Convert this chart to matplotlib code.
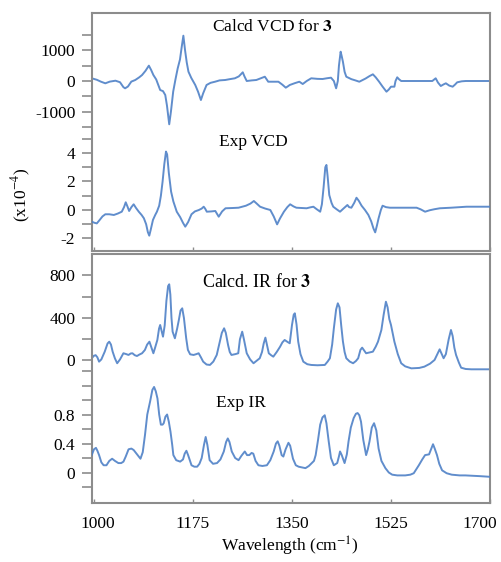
import numpy as np
import matplotlib
matplotlib.use("Agg")
import matplotlib.pyplot as plt
from matplotlib.transforms import ScaledTranslation

plt.rcParams["font.family"] = ["Liberation Serif", "DejaVu Serif"]
plt.rcParams["mathtext.fontset"] = "stix"

# Calcd VCD for 3
calc_vcd_x = [996, 1005, 1012, 1020, 1028, 1038, 1046, 1052, 1055, 1060, 1066, 1073,
              1080, 1085, 1091, 1097, 1101, 1105, 1110, 1117, 1122, 1126, 1129, 1133,
              1136, 1140, 1144, 1148, 1152, 1155, 1158, 1161, 1164, 1167, 1172, 1179,
              1184, 1189, 1193, 1199, 1206, 1214, 1222, 1232, 1240, 1249, 1256, 1263,
              1266, 1270, 1279, 1287, 1295, 1302, 1305, 1308, 1318, 1326, 1333, 1339,
              1343, 1346, 1355, 1363, 1369, 1376, 1384, 1395, 1404, 1412, 1419, 1424,
              1428, 1431, 1433, 1436, 1438, 1440, 1443, 1446, 1455, 1462, 1469, 1480,
              1487, 1493, 1498, 1504, 1510, 1517, 1521, 1525, 1531, 1533, 1536, 1539,
              1543, 1570, 1598, 1604, 1608, 1613, 1618, 1622, 1628, 1634, 1638, 1642,
              1650, 1657, 1700]
calc_vcd_y = [88, 40, -20, -75, -20, 10, -40, -200, -238, -180, -20, 33,
              120, 195, 330, 500, 360, 195, 50, -293, -330, -456, -800, -1411,
              -1000, -347, 50, 413, 700, 1100, 1477, 1000, 600, 303, 100, -130,
              -350, -619, -400, -130, -60, -23, 20, 33, 60, 88, 150, 283,
              150, 0, 20, 33, 90, 140, 60, -23, -23, -23, -120, -217,
              -170, -130, -70, -23, -98, 0, 88, 70, 65, 90, 108, 0,
              -238, 0, 500, 955, 800, 629, 300, 140, 60, 20, -23, 80,
              160, 218, 120, -23, -180, -348, -280, -185, -185, 0, 120, 60,
              0, 0, 0, 88, -50, -163, -110, -75, -150, -185, -120, -43,
              -10, 0, 0]

# Exp VCD (x10^-4)
exp_vcd_x = [996, 1001, 1005, 1010, 1015, 1020, 1027, 1035, 1042, 1049, 1053, 1056,
             1059, 1062, 1066, 1070, 1074, 1079, 1084, 1088, 1092, 1095, 1097.5, 1100,
             1104, 1108, 1111, 1115, 1118, 1121, 1124, 1127, 1129, 1132, 1136, 1140,
             1146, 1152, 1157, 1161, 1166, 1172, 1178, 1185, 1190, 1193.5, 1196, 1199,
             1207, 1214, 1220, 1226, 1232, 1245, 1255, 1268, 1276, 1282, 1287, 1293,
             1302, 1311, 1317, 1323, 1328, 1335, 1341, 1346, 1352, 1357, 1366, 1375,
             1381, 1387, 1393, 1399, 1402, 1405, 1408, 1410, 1412, 1415, 1419, 1422,
             1428, 1434, 1440, 1447, 1450, 1454, 1459, 1463, 1467, 1472, 1478, 1484,
             1489, 1493, 1496, 1499, 1502, 1506, 1509, 1515, 1522, 1545, 1569, 1576,
             1584, 1592, 1600, 1610, 1630, 1657, 1700]
exp_vcd_y = [-0.82, -0.90, -0.94, -0.70, -0.45, -0.30, -0.30, -0.35, -0.25, -0.12, 0.20, 0.54,
             0.25, -0.07, 0.20, 0.40, 0.15, -0.12, -0.35, -0.58, -1.00, -1.55, -1.80, -1.40,
             -0.70, -0.35, -0.12, 0.30, 1.00, 1.99, 3.20, 4.10, 3.90, 2.60, 1.29, 0.60,
             -0.12, -0.50, -0.90, -1.17, -0.85, -0.30, -0.10, 0.0, 0.10, 0.23, 0.10, -0.12,
             -0.10, -0.07, -0.47, -0.10, 0.12, 0.14, 0.16, 0.30, 0.45, 0.63, 0.45, 0.23,
             0.10, 0.0, -0.45, -1.01, -0.60, -0.12, 0.20, 0.40, 0.25, 0.16, 0.14, 0.12,
             0.18, 0.23, 0.05, -0.12, 0.40, 1.60, 3.00, 3.16, 2.40, 1.05, 0.50, 0.23,
             0.05, -0.12, 0.10, 0.35, 0.20, 0.16, 0.50, 0.86, 0.65, 0.30, 0.00, -0.35,
             -0.80, -1.30, -1.57, -1.10, -0.58, 0.00, 0.30, 0.20, 0.16, 0.16, 0.16, 0.05,
             -0.12, -0.02, 0.05, 0.12, 0.16, 0.23, 0.23]

# Calcd. IR for 3
calc_ir_x = [996, 1000, 1003, 1006, 1009, 1013, 1019, 1024, 1027, 1030, 1033, 1037,
             1041, 1046, 1052, 1057, 1061, 1065, 1068, 1072, 1076, 1080, 1085, 1090,
             1094, 1098, 1101, 1105, 1108, 1112, 1115, 1117, 1119, 1122, 1125, 1128,
             1131, 1133, 1135, 1137, 1139, 1143, 1147, 1150, 1153, 1156, 1159, 1163,
             1166, 1170, 1176, 1181, 1185, 1189, 1193, 1199, 1205, 1211, 1217, 1222,
             1226, 1230, 1233, 1237, 1240, 1243, 1250, 1255, 1258, 1262, 1265, 1270,
             1276, 1282, 1288, 1293, 1297, 1300, 1303, 1306, 1309, 1313, 1317, 1323,
             1329, 1333, 1337, 1342, 1346, 1350, 1353, 1355, 1358, 1361, 1365, 1370,
             1377, 1384, 1395, 1408, 1413, 1417, 1421, 1424, 1428, 1431, 1434, 1437,
             1440, 1443, 1446, 1452, 1458, 1463, 1467, 1471, 1474, 1478, 1481, 1487,
             1493, 1498, 1502, 1508, 1512, 1516, 1519, 1522, 1525, 1531, 1537, 1543,
             1550, 1561, 1575, 1584, 1594, 1602, 1607, 1611, 1614, 1618, 1622, 1627,
             1631, 1634, 1637, 1640, 1645, 1649, 1657, 1667, 1700]
calc_ir_y = [21, 45, 50, 30, -11, 10, 83, 160, 177, 150, 83, 20,
             -26, 10, 68, 60, 52, 66, 68, 50, 42, 55, 68, 99,
             150, 177, 130, 68, 120, 193, 300, 334, 290, 224, 330, 560,
             700, 717, 620, 400, 271, 209, 300, 381, 470, 491, 400, 209,
             100, 58, 52, 60, 68, 30, -11, -38, -42, -10, 52, 170,
             260, 303, 260, 146, 80, 52, 60, 68, 200, 271, 200, 68,
             10, -26, 0, 21, 80, 160, 215, 140, 68, 50, 36, 80,
             130, 170, 193, 175, 162, 334, 430, 444, 340, 177, 60, -11,
             -35, -42, -45, -42, -10, 21, 150, 303, 480, 538, 500, 330,
             180, 80, 21, -10, -26, -5, 21, 100, 121, 90, 68, 75,
             83, 130, 177, 287, 430, 553, 500, 390, 334, 177, 60, -26,
             -55, -74, -70, -58, -30, 5, 60, 105, 70, 21, 60, 200,
             287, 230, 120, 52, -20, -68, -80, -83, -83]

# Exp IR
exp_ir_x = [996, 1000, 1003.5, 1006, 1009, 1013, 1017, 1022, 1027, 1032, 1037, 1043,
            1048, 1052, 1056, 1061, 1066, 1070, 1076, 1082, 1086, 1090, 1094, 1099,
            1103, 1106, 1109, 1112, 1115, 1118, 1121, 1123, 1126, 1129, 1132, 1135,
            1138, 1140, 1145, 1152, 1157, 1160, 1163, 1166, 1172, 1177, 1182, 1186,
            1190, 1194, 1197, 1200, 1204, 1210, 1217, 1223, 1229, 1233, 1236, 1239,
            1243, 1249, 1255, 1260, 1266, 1270, 1274, 1278, 1281, 1285, 1290, 1297,
            1305, 1311, 1317, 1321, 1324, 1327, 1331, 1334, 1338, 1343, 1346, 1351,
            1356, 1361, 1367, 1373, 1379, 1384, 1388, 1391, 1395, 1399, 1403, 1407,
            1410, 1414, 1418, 1423, 1429, 1432, 1434, 1437, 1442, 1446, 1449, 1453,
            1458, 1462, 1465, 1468, 1471, 1475, 1480, 1483, 1486, 1490, 1494, 1498,
            1502, 1507, 1514, 1520, 1526, 1535, 1549, 1558, 1564, 1569, 1573, 1579,
            1584, 1591, 1595, 1598, 1601, 1605, 1609, 1614, 1622, 1631, 1645, 1655,
            1680, 1700]
exp_ir_y = [0.24, 0.32, 0.34, 0.30, 0.24, 0.14, 0.10, 0.10, 0.16, 0.19, 0.16, 0.13,
            0.13, 0.15, 0.22, 0.32, 0.33, 0.31, 0.25, 0.19, 0.28, 0.52, 0.80, 0.98,
            1.14, 1.18, 1.12, 1.02, 0.80, 0.66, 0.66, 0.68, 0.77, 0.80, 0.70, 0.56,
            0.38, 0.24, 0.17, 0.15, 0.18, 0.26, 0.30, 0.24, 0.10, 0.08, 0.08, 0.12,
            0.20, 0.38, 0.49, 0.38, 0.17, 0.12, 0.13, 0.18, 0.29, 0.42, 0.47, 0.42,
            0.29, 0.20, 0.17, 0.23, 0.29, 0.24, 0.24, 0.27, 0.26, 0.16, 0.10, 0.09,
            0.10, 0.17, 0.29, 0.40, 0.43, 0.37, 0.24, 0.22, 0.32, 0.41, 0.37, 0.19,
            0.10, 0.08, 0.07, 0.06, 0.09, 0.13, 0.16, 0.24, 0.44, 0.66, 0.76, 0.79,
            0.68, 0.43, 0.20, 0.10, 0.13, 0.22, 0.29, 0.24, 0.13, 0.25, 0.43, 0.62,
            0.75, 0.81, 0.82, 0.79, 0.70, 0.45, 0.24, 0.32, 0.43, 0.62, 0.68, 0.58,
            0.33, 0.16, 0.06, 0.00, -0.03, -0.04, -0.04, -0.03, -0.01, 0.05, 0.10, 0.18,
            0.24, 0.25, 0.33, 0.39, 0.33, 0.24, 0.12, 0.03, -0.01, -0.03, -0.04, -0.04,
            -0.05, -0.06]

x_ticks = [1000, 1175, 1350, 1525, 1700]

line_color = "#4f81c7"
frame_color = "#8c8c8c"
W, H = 502, 562

fig = plt.figure(figsize=(W / 100, H / 100), dpi=100)


def px_rect(x0, y0, x1, y1):
    return [x0 / W, 1 - y1 / H, (x1 - x0) / W, (y1 - y0) / H]


def curve_axes(rect, x, y, ylim, ticks, labels, frame=False):
    ax = fig.add_axes(rect)
    ax.patch.set_visible(False)
    ax.plot(x, y, color=line_color, lw=1.4, alpha=0.9, solid_joinstyle="round")
    ax.set_xlim(996.5, 1698.5)
    ax.set_ylim(*ylim)
    ax.set_yticks(ticks)
    ax.set_yticklabels(labels)
    ax.tick_params(axis="y", direction="out", length=7, width=1.2, color=frame_color,
                   labelsize=12.5, pad=5)
    for side, sp in ax.spines.items():
        sp.set_color(frame_color)
        sp.set_linewidth(1.5)
        if not frame:
            sp.set_visible(False)
    if frame:
        ax.set_xticks(x_ticks)
        ax.tick_params(axis="x", direction="in", length=3, width=1, color=frame_color)
    else:
        ax.set_xticks([])
    return ax


top = px_rect(92, 13, 490, 251)
bot = px_rect(92, 254, 490, 503)

vcd_ticks = [-1500, -1000, -500, 0, 500, 1000, 1500]
ax1 = curve_axes(top, calc_vcd_x, calc_vcd_y, (-5537, 2215), vcd_ticks,
                 ["", "-1000", "", "0", "", "1000", ""], frame=True)
ax1.set_xticklabels([])

ev_ticks = [-2, -1, 0, 1, 2, 3, 4, 5]
curve_axes(top, exp_vcd_x, exp_vcd_y, (-2.877, 13.82), ev_ticks,
           ["-2", "", "0", "", "2", "", "4", ""])

ir_ticks = [0, 200, 400, 600, 800]
ax3 = curve_axes(bot, calc_ir_x, calc_ir_y, (-1341, 1002), ir_ticks,
                 ["0", "", "400", "", "800"], frame=True)
ax3.set_xticklabels([str(t) for t in x_ticks])
ax3.tick_params(axis="x", labelsize=12.5, pad=9)
shifts = {0: 3.5, 4: -10}
for i, lab in enumerate(ax3.get_xticklabels()):
    if i in shifts:
        lab.set_transform(lab.get_transform() +
                          ScaledTranslation(shifts[i] / 100, 0, fig.dpi_scale_trans))

ei_ticks = [-0.2, 0, 0.2, 0.4, 0.6, 0.8, 1.0, 1.2, 1.4]
curve_axes(bot, exp_ir_x, exp_ir_y, (-0.4207, 3.014), ei_ticks,
           ["", "0", "", "0.4", "", "0.8", "", "", ""])


def ftext(px, py, s, size=12.5, **kw):
    fig.text(px / W, 1 - py / H, s, ha="center", va="center", fontsize=size, **kw)


ftext(272, 27, r"Calcd VCD for $\mathbf{3}$")
ftext(253, 142, "Exp VCD")
ftext(257, 282, r"Calcd. IR for $\mathbf{3}$", size=13)
ftext(241, 403, "Exp IR")
ftext(290, 546, r"Wavelength (cm$^{-1}$)")
ftext(21, 195, r"(x10$^{-4}$)", rotation=90)

fig.savefig("out.png", dpi=100)
